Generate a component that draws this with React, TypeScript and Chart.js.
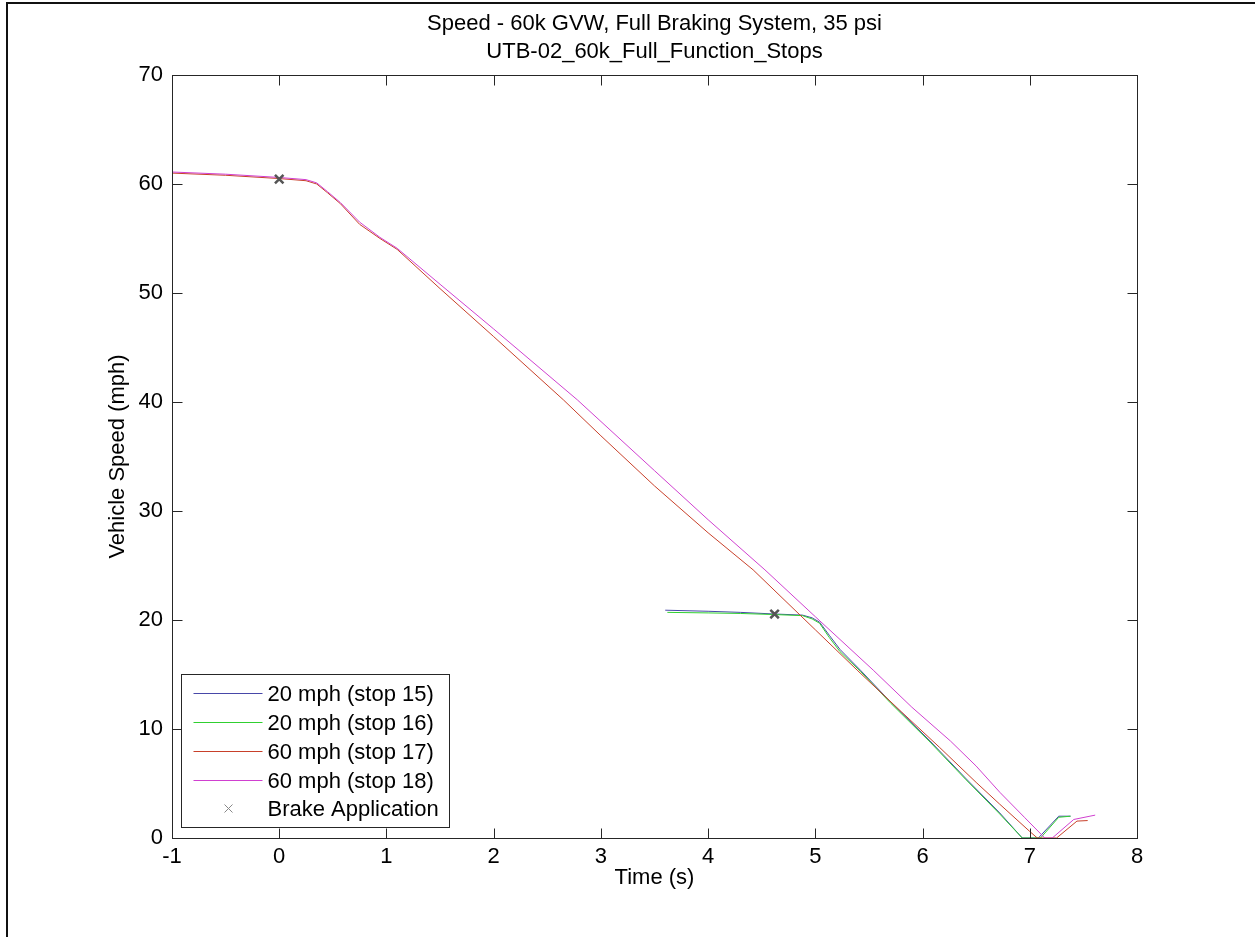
import React, { useEffect, useRef } from "react";
import { Chart, registerables } from "chart.js";

Chart.register(...registerables);

// ---- Data ----
const titleLines = ["Speed - 60k GVW, Full Braking System, 35 psi", "UTB-02_60k_Full_Function_Stops"];
const xTitle = "Time (s)";
const yTitle = "Vehicle Speed (mph)";
const xTicks = [-1, 0, 1, 2, 3, 4, 5, 6, 7, 8];
const yTicks = [0, 10, 20, 30, 40, 50, 60, 70];

const seriesLabels = ["20 mph (stop 15)", "20 mph (stop 16)", "60 mph (stop 17)", "60 mph (stop 18)"];
const brakeLabel = "Brake Application";

const t15 = [3.6, 4.0, 4.3, 4.62, 4.88, 4.97, 5.04, 5.13, 5.23, 5.42, 5.7, 6.07, 6.4, 6.72, 6.93, 7.08, 7.27, 7.38];
const v15 = [20.9, 20.8, 20.7, 20.55, 20.45, 20.2, 19.8, 18.6, 17.3, 15.4, 12.5, 8.9, 5.5, 2.3, 0, 0, 2.0, 2.0];
const t16 = [3.62, 4.0, 4.3, 4.62, 4.88, 4.97, 5.04, 5.13, 5.23, 5.42, 5.7, 6.07, 6.4, 6.72, 6.93, 7.1, 7.27, 7.38];
const v16 = [20.7, 20.65, 20.6, 20.5, 20.4, 20.1, 19.7, 18.4, 17.1, 15.3, 12.4, 8.8, 5.4, 2.2, 0, 0, 1.9, 2.0];
const t17 = [-1, -0.5, 0, 0.25, 0.35, 0.45, 0.57, 0.75, 0.94, 1.1, 1.5, 2.0, 2.65, 3.0, 3.5, 4.0, 4.42, 5.0, 5.39, 5.8, 6.16, 6.5, 6.72, 7.0, 7.07, 7.25, 7.44, 7.54];
const v17 = [61.0, 60.8, 60.5, 60.3, 60.0, 59.2, 58.2, 56.3, 55.0, 54.0, 50.4, 46.0, 40.2, 36.9, 32.3, 28.0, 24.6, 19.1, 15.4, 11.6, 8.3, 5.1, 3.1, 0.6, 0, 0, 1.55, 1.6];
const t18 = [-1, -0.5, 0, 0.25, 0.35, 0.45, 0.57, 0.75, 0.94, 1.1, 1.5, 2.0, 2.78, 3.5, 4.0, 4.53, 5.0, 5.54, 5.9, 6.26, 6.5, 6.72, 6.95, 7.11, 7.14, 7.21, 7.41, 7.61];
const v18 = [61.1, 60.9, 60.6, 60.4, 60.1, 59.3, 58.3, 56.5, 55.1, 54.1, 50.8, 46.7, 40.2, 33.7, 29.2, 24.6, 20.3, 15.4, 12.0, 8.9, 6.6, 4.2, 1.9, 0.3, 0, 0, 1.7, 2.1];
const brakeT = [0, 4.62];
const brakeV = [60.45, 20.55];

const colors = ["#4848a8", "#30d030", "#c8402a", "#d040d0"];
const markerColor = "#555555";
const FONT = '"Liberation Sans", Arial, Helvetica, sans-serif';
const FS = 22;

const toPts = (t: number[], v: number[]) => t.map((x, i) => ({ x, y: v[i] }));

const framePlugin = {
  id: "frame",
  afterDraw(chart: any) {
    const { ctx, chartArea: a, scales } = chart;
    ctx.save();
    const L = Math.round(a.left) + 0.5;
    const R = Math.round(a.right) + 0.5;
    const T = Math.round(a.top) + 0.5;
    const B = Math.round(a.bottom) + 0.5;
    ctx.strokeStyle = "#262626";
    ctx.lineWidth = 1;
    ctx.strokeRect(L, T, R - L, B - T);
    const tl = 10;
    ctx.beginPath();
    scales.x.ticks.forEach((tk: any) => {
      const px = Math.round(scales.x.getPixelForValue(tk.value)) + 0.5;
      ctx.moveTo(px, B); ctx.lineTo(px, B - tl);
      ctx.moveTo(px, T); ctx.lineTo(px, T + tl);
    });
    scales.y.ticks.forEach((tk: any) => {
      const py = Math.round(scales.y.getPixelForValue(tk.value)) + 0.5;
      ctx.moveTo(L, py); ctx.lineTo(L + tl, py);
      ctx.moveTo(R, py); ctx.lineTo(R - tl, py);
    });
    ctx.stroke();

    // titles
    ctx.fillStyle = "#000";
    ctx.font = `${FS}px ${FONT}`;
    ctx.textAlign = "center";
    ctx.textBaseline = "middle";
    const cx = (a.left + a.right) / 2;
    ctx.fillText(titleLines[0], cx, 24);
    ctx.fillText(titleLines[1], cx, 52);

    // legend
    const bx = Math.round(a.left) + 9.5;
    const by = Math.round(a.bottom) - 163.5;
    const bw = 268;
    const bh = 153;
    ctx.fillStyle = "#fff";
    ctx.fillRect(bx, by, bw, bh);
    ctx.strokeStyle = "#262626";
    ctx.strokeRect(bx, by, bw, bh);
    ctx.textAlign = "left";
    const rowY = (i: number) => by + 18 + i * 29;
    seriesLabels.forEach((lab, i) => {
      const y = Math.round(rowY(i)) + 0.5;
      ctx.strokeStyle = colors[i];
      ctx.lineWidth = 1;
      ctx.beginPath();
      ctx.moveTo(bx + 12, y);
      ctx.lineTo(bx + 81, y);
      ctx.stroke();
      ctx.fillStyle = "#000";
      ctx.fillText(lab, bx + 86, y + 1);
    });
    const my = rowY(4);
    const mx = bx + 47;
    ctx.strokeStyle = "#888";
    ctx.lineWidth = 1;
    ctx.beginPath();
    ctx.moveTo(mx - 4, my - 4); ctx.lineTo(mx + 4, my + 4);
    ctx.moveTo(mx - 4, my + 4); ctx.lineTo(mx + 4, my - 4);
    ctx.stroke();
    ctx.fillStyle = "#000";
    ctx.fillText(brakeLabel, bx + 86, my + 1);
    ctx.restore();
  },
};

export default function App() {
  const ref = useRef<HTMLCanvasElement | null>(null);
  useEffect(() => {
    if (!ref.current) return;
    const font = { family: FONT, size: FS };
    const lineDs = (i: number, t: number[], v: number[], order: number) => ({
      label: seriesLabels[i],
      data: toPts(t, v),
      showLine: true,
      borderColor: colors[i],
      backgroundColor: colors[i],
      borderWidth: 1,
      pointRadius: 0,
      fill: false,
      tension: 0,
      order,
    });
    const chart = new Chart(ref.current, {
      type: "scatter",
      data: {
        datasets: [
          lineDs(0, t15, v15, 4),
          lineDs(1, t16, v16, 3),
          lineDs(2, t17, v17, 2),
          lineDs(3, t18, v18, 1),
          {
            label: brakeLabel,
            data: toPts(brakeT, brakeV),
            showLine: false,
            pointStyle: "crossRot",
            pointRadius: 6,
            borderColor: markerColor,
            backgroundColor: markerColor,
            borderWidth: 2.5,
            order: 0,
          } as any,
        ],
      },
      options: {
        animation: false,
        responsive: false,
        devicePixelRatio: 1,
        layout: { padding: { top: 75, right: 118, left: 0, bottom: 0 } },
        plugins: {
          legend: { display: false },
          title: { display: false },
          tooltip: { enabled: false },
        },
        scales: {
          x: {
            type: "linear",
            min: -1,
            max: 8,
            afterBuildTicks: (s: any) => {
              s.ticks = xTicks.map((v) => ({ value: v }));
            },
            grid: { display: false, drawTicks: false, tickLength: 0 },
            border: { display: false },
            ticks: { padding: 6, font, color: "#000", maxRotation: 0, autoSkip: false },
            title: { display: true, text: xTitle, font, color: "#000", padding: { top: 0, bottom: 46 } },
            afterFit: (s: any) => {
              s.height = 99;
            },
          },
          y: {
            type: "linear",
            min: 0,
            max: 70,
            afterBuildTicks: (s: any) => {
              s.ticks = yTicks.map((v) => ({ value: v }));
            },
            grid: { display: false, drawTicks: false, tickLength: 0 },
            border: { display: false },
            ticks: { padding: 9, font, color: "#000", autoSkip: false },
            title: { display: true, text: yTitle, font, color: "#000", padding: { top: 105, bottom: 0 } },
            afterFit: (s: any) => {
              s.width = 172;
            },
          },
        },
      } as any,
      plugins: [framePlugin],
    });
    return () => chart.destroy();
  }, []);

  return (
    <div style={{ position: "absolute", left: 0, top: 0, width: 1255, height: 937, background: "#fff" }}>
      <canvas ref={ref} width={1255} height={937} style={{ width: 1255, height: 937, display: "block" }} />
      <div
        style={{
          position: "absolute",
          left: 6,
          top: 2,
          width: 1249,
          height: 935,
          borderTop: "2px solid #111",
          borderLeft: "2px solid #111",
          boxSizing: "border-box",
          pointerEvents: "none",
        }}
      />
    </div>
  );
}
